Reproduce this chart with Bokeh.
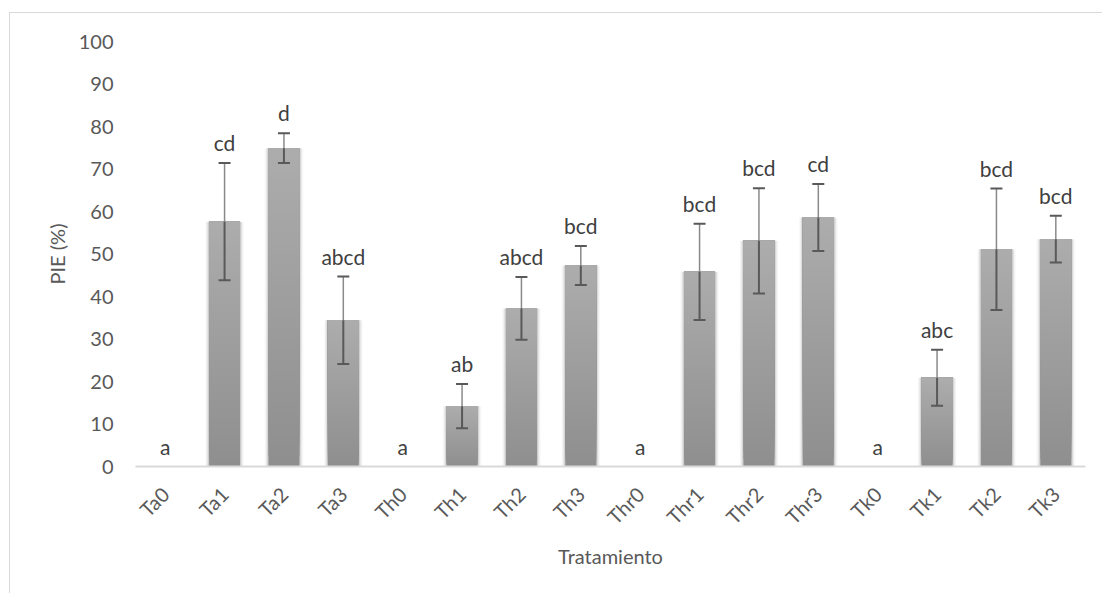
import numpy as np
from bokeh.plotting import figure
from bokeh.models import FactorRange, FixedTicker, ColumnDataSource, LabelSet
from bokeh.core.properties import value
from bokeh.embed import file_html
from bokeh.resources import INLINE

# Treatments, mean PIE (%) and error (+/-) per treatment, significance letters
treatments = ["Ta0", "Ta1", "Ta2", "Ta3", "Th0", "Th1", "Th2", "Th3",
              "Thr0", "Thr1", "Thr2", "Thr3", "Tk0", "Tk1", "Tk2", "Tk3"]
pie_mean = [0, 57.6, 74.9, 34.4, 0, 14.2, 37.2, 47.3,
            0, 45.8, 53.1, 58.6, 0, 20.9, 51.1, 53.5]
pie_err = [0, 13.8, 3.5, 10.3, 0, 5.2, 7.4, 4.6,
           0, 11.3, 12.4, 7.9, 0, 6.6, 14.3, 5.5]
letters = ["a", "cd", "d", "abcd", "a", "ab", "abcd", "bcd",
           "a", "bcd", "bcd", "cd", "a", "abc", "bcd", "bcd"]
y_ticks = [0, 10, 20, 30, 40, 50, 60, 70, 80, 90, 100]

FONT = "Lato"
AXIS_TXT = "#595959"

p = figure(
    x_range=FactorRange(factors=treatments),
    y_range=(0, 100),
    width=1093, height=581,
    margin=(12, 0, 0, 9),
    styles={"border-top": "1px solid #d9d9d9", "border-left": "1px solid #d9d9d9"},
    output_backend="svg", toolbar_location=None,
    min_border_left=125, min_border_right=18,
    min_border_top=28, min_border_bottom=128,
)
p.outline_line_color = None
p.xgrid.grid_line_color = None
p.ygrid.grid_line_color = None
p.background_fill_color = "white"
p.border_fill_color = "white"

# soft halo around the bars
for k, a in [(1, 0.10), (2, 0.06), (3, 0.035), (4, 0.02)]:
    p.rect(x=treatments, y=[m / 2 for m in pie_mean], width=31 + 2 * k,
           width_units="screen", height=pie_mean, fill_color="black",
           fill_alpha=a, line_color=None)

# bars with a vertical grey gradient (lighter at the top); each band runs
# from its own bottom up to the bar top, later bands paint over earlier ones
N = 30
top_rgb = np.array([0xad, 0xad, 0xad])
bot_rgb = np.array([0x8e, 0x8e, 0x8e])
gx, gb, gt, gc = [], [], [], []
for cat, m in zip(treatments, pie_mean):
    if m <= 0:
        continue
    for j in range(N):
        f = (j + 0.5) / N
        rgb = (bot_rgb + (top_rgb - bot_rgb) * f).round().astype(int)
        gx.append(cat)
        gb.append(m * j / N)
        gt.append(m)
        gc.append("#%02x%02x%02x" % tuple(rgb))
p.vbar(x=gx, bottom=gb, top=gt, width=0.52, fill_color=gc, line_color=None)

# error bars: lighter stroke above the bar, darker stroke inside it
ex = [c for c, e in zip(treatments, pie_err) if e > 0]
em = [m for m, e in zip(pie_mean, pie_err) if e > 0]
ee = [e for e in pie_err if e > 0]
up = [m + e for m, e in zip(em, ee)]
lo = [m - e for m, e in zip(em, ee)]
p.segment(x0=ex, y0=em, x1=ex, y1=up, line_color="#8a8a8a", line_width=1.5)
p.segment(x0=ex, y0=lo, x1=ex, y1=em, line_color="#595959", line_width=2)
p.scatter(x=ex, y=up, marker="dash", size=12, line_color="#595959", line_width=2)
p.scatter(x=ex, y=lo, marker="dash", size=12, line_color="#595959", line_width=2)

# significance letters above each error bar
lab_src = ColumnDataSource(dict(
    x=treatments,
    y=[m + e for m, e in zip(pie_mean, pie_err)],
    t=letters,
))
p.add_layout(LabelSet(x="x", y="y", text="t", source=lab_src, y_offset=12,
                      text_align="center", text_baseline="alphabetic",
                      text_font=value(FONT), text_font_size=value("21px"),
                      text_color="#404040"))

# axes
p.yaxis.ticker = FixedTicker(ticks=y_ticks)
p.yaxis.axis_line_color = None
p.yaxis.major_tick_line_color = None
p.yaxis.minor_tick_line_color = None
p.yaxis.major_label_standoff = 16
p.yaxis.major_label_text_font = FONT
p.yaxis.major_label_text_font_size = "20px"
p.yaxis.major_label_text_color = AXIS_TXT
p.yaxis.axis_label = "PIE (%)"
p.yaxis.axis_label_text_font = FONT
p.yaxis.axis_label_text_font_size = "20px"
p.yaxis.axis_label_text_font_style = "normal"
p.yaxis.axis_label_text_color = AXIS_TXT
p.yaxis.axis_label_standoff = 7

p.xaxis.axis_line_color = "#d9d9d9"
p.xaxis.axis_line_width = 2
p.xaxis.major_tick_line_color = None
p.xaxis.minor_tick_line_color = None
p.xaxis.major_label_orientation = np.pi / 4
p.xaxis.major_label_standoff = 18
p.xaxis.major_label_text_font = FONT
p.xaxis.major_label_text_font_size = "20px"
p.xaxis.major_label_text_color = AXIS_TXT
p.xaxis.axis_label = "Tratamiento"
p.xaxis.axis_label_text_font = FONT
p.xaxis.axis_label_text_font_size = "20px"
p.xaxis.axis_label_text_font_style = "normal"
p.xaxis.axis_label_text_color = AXIS_TXT
p.xaxis.axis_label_standoff = 4

open("out.html", "w").write(file_html(p, INLINE))
